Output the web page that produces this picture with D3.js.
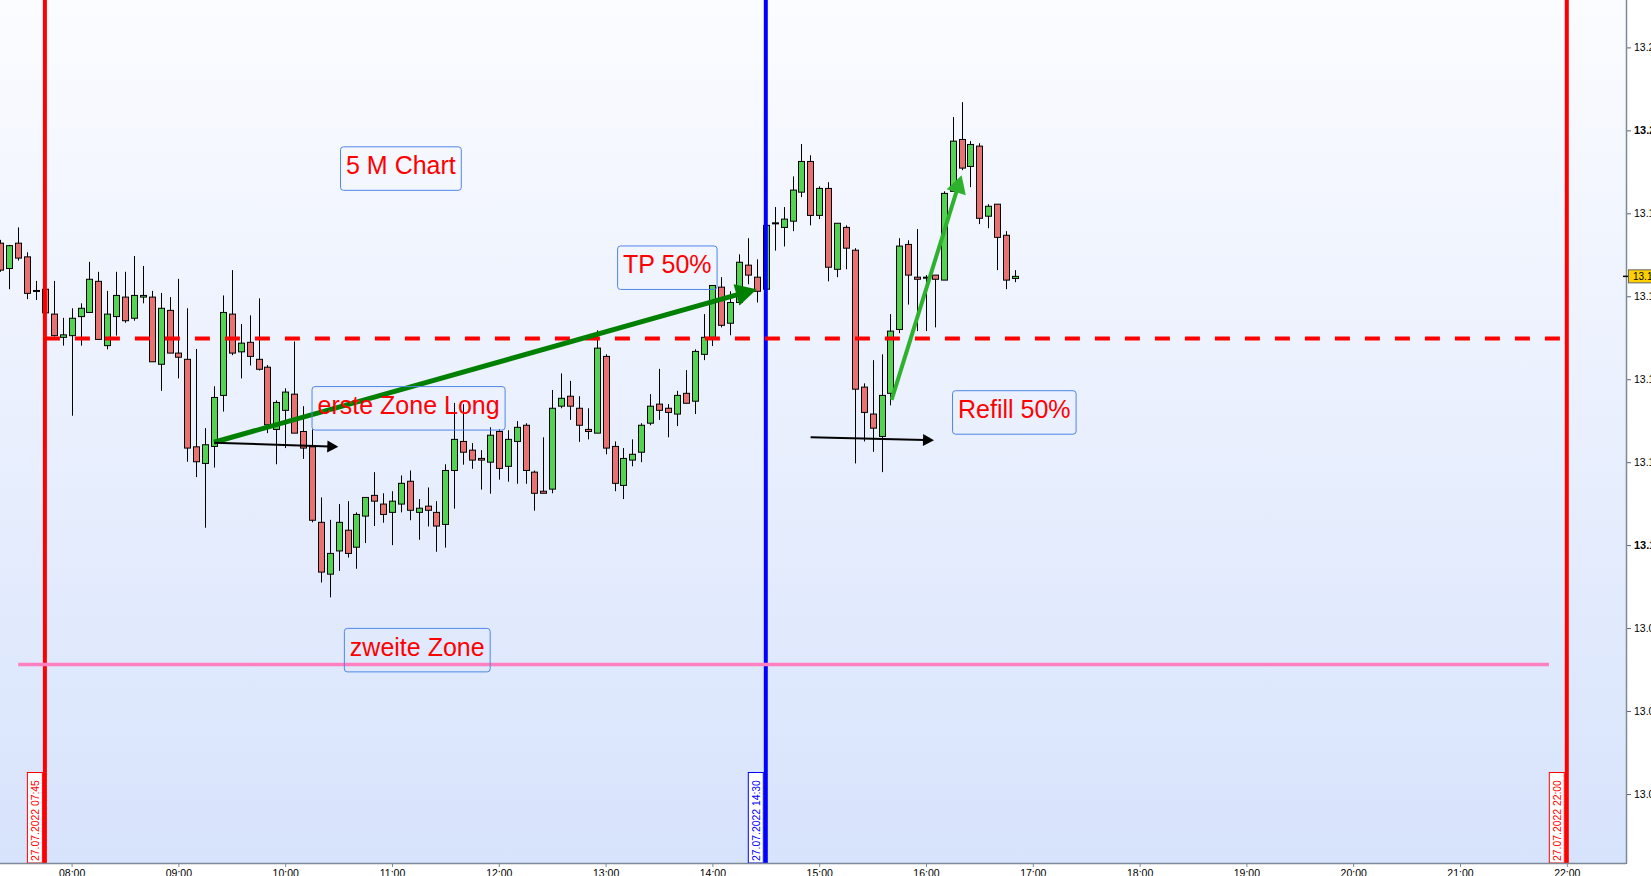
<!DOCTYPE html>
<html><head><meta charset="utf-8">
<script src="https://cdn.jsdelivr.net/npm/d3@7"></script>
<style>html,body{margin:0;padding:0;background:#fff;overflow:hidden}svg{display:block}</style>
</head><body>
<svg id="c" width="1651" height="876"></svg>
<script>
// ---------- data ----------
const DAY = "2022-07-27";
const FIRST_CANDLE = "07:20";           // 5-minute candles
const CANDLE_MINUTES = 5;
const opens = [13.1728,13.1667,13.1728,13.1695,13.1614,13.1617,13.1557,13.1501,13.1505,13.1551,
13.1561,13.1636,13.1481,13.1551,13.1598,13.1547,13.1598,13.1598,13.1436,13.1566,
13.1463,13.1448,13.1237,13.1197,13.1238,13.1361,13.1557,13.1466,13.1489,13.1448,
13.1429,13.1279,13.1325,13.1364,13.1274,13.1237,13.1055,13.0930,13.0986,13.1036,
13.0995,13.1070,13.1120,13.1099,13.1079,13.1099,13.1154,13.1079,13.1094,13.1079,
13.1050,13.1180,13.1250,13.1229,13.1209,13.1200,13.1274,13.1190,13.1250,13.1289,
13.1176,13.1130,13.1135,13.1335,13.1359,13.1330,13.1279,13.1270,13.1455,13.1238,
13.1144,13.1205,13.1224,13.1294,13.1340,13.1330,13.1316,13.1366,13.1347,13.1460,
13.1501,13.1622,13.1535,13.1585,13.1675,13.1646,13.1617,13.1776,13.1766,13.1781,
13.1851,13.1925,13.1795,13.1860,13.1665,13.1766,13.1711,13.1381,13.1316,13.1262,
13.1366,13.1520,13.1725,13.1646,13.1646,13.1651,13.1639,13.1853,13.1978,13.1913,
13.1962,13.1793,13.1822,13.1747,13.1643];
const highs = [13.1736,13.1724,13.1766,13.1706,13.1637,13.1620,13.1637,13.1548,13.1571,13.1583,
13.1683,13.1659,13.1613,13.1659,13.1659,13.1697,13.1673,13.1613,13.1608,13.1598,
13.1642,13.1571,13.1473,13.1282,13.1383,13.1602,13.1663,13.1533,13.1554,13.1595,
13.1434,13.1349,13.1378,13.1491,13.1335,13.1279,13.1115,13.1061,13.1099,13.1106,
13.1079,13.1115,13.1176,13.1125,13.1130,13.1168,13.1180,13.1111,13.1139,13.1106,
13.1195,13.1343,13.1340,13.1246,13.1229,13.1284,13.1279,13.1277,13.1299,13.1294,
13.1180,13.1260,13.1374,13.1414,13.1396,13.1359,13.1330,13.1518,13.1460,13.1250,
13.1234,13.1255,13.1294,13.1364,13.1425,13.1340,13.1372,13.1422,13.1472,13.1557,
13.1626,13.1646,13.1612,13.1701,13.1740,13.1689,13.1774,13.1815,13.1815,13.1889,
13.1967,13.1940,13.1865,13.1875,13.1776,13.1771,13.1716,13.1390,13.1446,13.1460,
13.1557,13.1740,13.1735,13.1762,13.1651,13.1651,13.1853,13.2032,13.2068,13.1974,
13.1969,13.1822,13.1822,13.1757,13.1663];
const lows = [13.1659,13.1617,13.1686,13.1593,13.1591,13.1560,13.1503,13.1481,13.1312,13.1481,
13.1560,13.1496,13.1472,13.1505,13.1536,13.1541,13.1583,13.1442,13.1372,13.1463,
13.1402,13.1201,13.1164,13.1042,13.1187,13.1322,13.1458,13.1402,13.1433,13.1421,
13.1270,13.1195,13.1234,13.1270,13.1208,13.1055,13.0910,13.0874,13.0938,13.0970,
13.0943,13.1005,13.1046,13.1054,13.1000,13.1079,13.1060,13.1013,13.1045,13.0984,
13.0994,13.1088,13.1194,13.1184,13.1134,13.1124,13.1158,13.1153,13.1148,13.1148,
13.1083,13.1125,13.1125,13.1330,13.1302,13.1249,13.1255,13.1270,13.1219,13.1130,
13.1111,13.1190,13.1200,13.1289,13.1302,13.1260,13.1287,13.1342,13.1316,13.1446,
13.1480,13.1525,13.1506,13.1579,13.1629,13.1585,13.1617,13.1710,13.1720,13.1757,
13.1839,13.1771,13.1786,13.1636,13.1646,13.1665,13.1197,13.1250,13.1225,13.1176,
13.1337,13.1511,13.1580,13.1516,13.1516,13.1525,13.1639,13.1853,13.1904,13.1863,
13.1774,13.1764,13.1663,13.1617,13.1634];
const closes = [13.1663,13.1722,13.1692,13.1607,13.1613,13.1560,13.1505,13.1507,13.1547,13.1571,
13.1641,13.1496,13.1557,13.1602,13.1541,13.1602,13.1602,13.1442,13.1571,13.1463,
13.1453,13.1234,13.1201,13.1242,13.1356,13.1561,13.1463,13.1487,13.1455,13.1424,
13.1290,13.1344,13.1369,13.1270,13.1234,13.1060,13.0935,13.0980,13.1055,13.0980,
13.1074,13.1115,13.1106,13.1074,13.1106,13.1149,13.1084,13.1089,13.1084,13.1046,
13.1180,13.1255,13.1224,13.1205,13.1205,13.1265,13.1185,13.1255,13.1284,13.1180,
13.1125,13.1125,13.1330,13.1354,13.1335,13.1289,13.1274,13.1475,13.1234,13.1149,
13.1209,13.1219,13.1289,13.1335,13.1325,13.1320,13.1361,13.1342,13.1467,13.1501,
13.1626,13.1530,13.1585,13.1682,13.1651,13.1612,13.1771,13.1777,13.1786,13.1856,
13.1925,13.1795,13.1860,13.1670,13.1776,13.1716,13.1376,13.1320,13.1282,13.1361,
13.1516,13.1721,13.1651,13.1641,13.1645,13.1641,13.1848,13.1974,13.1909,13.1966,
13.1788,13.1817,13.1742,13.1639,13.1648];

const yTickValues = [13.04,13.06,13.08,13.10,13.12,13.14,13.16,13.18,13.20,13.22];
const yBoldTicks = [13.10,13.20];
const xTickLabels = ["08:00","09:00","10:00","11:00","12:00","13:00","14:00","15:00","16:00","17:00","18:00","19:00","20:00","21:00","22:00"];
const lastPrice = 13.1648;

// vertical time markers
const vMarkerTimes  = ["07:45","14:30","22:00"];
const vMarkerColors = ["#ff0000","#0000ff","#ff0000"];
// horizontal levels
const levelPrices = [13.1498, 13.0712];
const levelFrom   = ["07:45","07:30"];
const levelTo     = ["21:58","21:50"];
const levelColors = ["#ff0000","#ff80c0"];
const levelDash   = ["15,15", null];
// arrows
const arrowFromT = ["09:20:00","15:40:40","09:20:00","14:55:10"];
const arrowFromP = [13.1248,13.1350,13.1247,13.1260];
const arrowToT   = ["14:24:55","16:20:00","10:29:50","16:04:30"];
const arrowToP   = [13.1617,13.1892,13.1237,13.1253];
const arrowColors= ["#008000","#2eb22e","#000000","#000000"];
const arrowWidths= [5,4,2,2];
const arrowHeadL = [21,18,11,11];
const arrowHeadW = [11,10,6,6];
// text annotations (anchor = text start / baseline)
const noteTexts = ["5 M Chart","TP 50%","erste Zone Long","Refill 50%","zweite Zone"];
const noteT = ["10:34:10","13:09:50","10:18:10","16:18:00","10:36:20"];
const noteP = [13.1894,13.1655,13.1316,13.1306,13.0733];

// ---------- setup ----------
const W = 1651, H = 876, plotR = 1626, plotB = 863;
const parse = d3.timeParse("%Y-%m-%d %H:%M:%S");
const t = s => parse(DAY + " " + (s.length === 5 ? s + ":00" : s));
const x = d3.scaleTime().domain([t("08:00"), t("22:00")]).range([71.6, 1566.8]);
const y = d3.scaleLinear().domain([13.22, 13.04]).range([47.4, 794]);
const FONT = "'Liberation Sans', Arial, sans-serif";

const svg = d3.select("#c");
const defs = svg.append("defs");
const grad = defs.append("linearGradient").attr("id","bg").attr("x1",0).attr("y1",0).attr("x2",0).attr("y2",1);
grad.append("stop").attr("offset","0%").attr("stop-color","#fbfcff");
grad.append("stop").attr("offset","100%").attr("stop-color","#d7e3fc");
defs.append("clipPath").attr("id","plot").append("rect").attr("width",plotR).attr("height",plotB);

svg.append("rect").attr("width",W).attr("height",H).attr("fill","#ffffff");
svg.append("rect").attr("width",plotR).attr("height",plotB).attr("fill","url(#bg)");

const g = svg.append("g").attr("clip-path","url(#plot)");

// ---------- candles ----------
const start = t(FIRST_CANDLE);
const candles = opens.map((o,i) => ({
  time: d3.timeMinute.offset(start, i*CANDLE_MINUTES),
  o, h: highs[i], l: lows[i], c: closes[i]
}));
const cg = g.append("g");
const bw = 6;
cg.selectAll("line.wick").data(candles).join("line")
  .attr("x1", d => Math.round(x(d.time)) + 0.5).attr("x2", d => Math.round(x(d.time)) + 0.5)
  .attr("y1", d => y(d.h)).attr("y2", d => y(d.l))
  .attr("stroke","#000").attr("stroke-width",1);
cg.selectAll("rect.body").data(candles).join("rect")
  .attr("x", d => Math.round(x(d.time)) - bw/2 + 0.5)
  .attr("width", bw)
  .attr("y", d => y(Math.max(d.o,d.c)))
  .attr("height", d => Math.max(1, y(Math.min(d.o,d.c)) - y(Math.max(d.o,d.c))))
  .attr("fill", d => d.c >= d.o ? "#52d452" : "#e87272")
  .attr("stroke","#000").attr("stroke-width",1);

// ---------- vertical markers ----------
vMarkerTimes.forEach((tm,i) => {
  g.append("line").attr("x1",x(t(tm))).attr("x2",x(t(tm))).attr("y1",0).attr("y2",plotB)
    .attr("stroke",vMarkerColors[i]).attr("stroke-width",4);
});

// ---------- horizontal levels ----------
levelPrices.forEach((p,i) => {
  const ln = g.append("line").attr("x1",x(t(levelFrom[i]))).attr("x2",x(t(levelTo[i])))
    .attr("y1",y(p)).attr("y2",y(p)).attr("stroke",levelColors[i])
    .attr("stroke-width", i===0 ? 4 : 3.5);
  if (levelDash[i]) ln.attr("stroke-dasharray",levelDash[i]);
});

// ---------- arrows ----------
arrowFromT.forEach((ft,i) => {
  const x1 = x(t(ft)), y1 = y(arrowFromP[i]), x2 = x(t(arrowToT[i])), y2 = y(arrowToP[i]);
  const ang = Math.atan2(y2-y1, x2-x1), L = arrowHeadL[i], hw = arrowHeadW[i];
  const bx = x2 - L*Math.cos(ang), by = y2 - L*Math.sin(ang);
  g.append("line").attr("x1",x1).attr("y1",y1).attr("x2",bx + 2*Math.cos(ang)).attr("y2",by + 2*Math.sin(ang))
    .attr("stroke",arrowColors[i]).attr("stroke-width",arrowWidths[i]);
  const px = -Math.sin(ang), py = Math.cos(ang);
  g.append("path").attr("d",`M${x2},${y2}L${bx+px*hw},${by+py*hw}L${bx-px*hw},${by-py*hw}Z`)
    .attr("fill",arrowColors[i]);
});

// ---------- notes ----------
noteTexts.forEach((txt,i) => {
  const tx = x(t(noteT[i])), ty = y(noteP[i]);
  const te = g.append("text").attr("x",tx).attr("y",ty).text(txt)
    .attr("font-family",FONT).attr("font-size",25).attr("fill","#ff0000");
  const w = te.node().getComputedTextLength();
  g.insert("rect", () => te.node()).attr("x",tx-5.5).attr("y",ty-27.5).attr("width",w+11).attr("height",43.5)
    .attr("rx",3).attr("fill","none").attr("stroke","#4f86e8").attr("stroke-width",1);
});

// ---------- date labels on markers ----------
const fmtFull = d3.timeFormat("%d.%m.%Y %H:%M");
vMarkerTimes.forEach((tm,i) => {
  const lx = x(t(tm));
  svg.append("rect").attr("x",lx-17.5).attr("y",772.5).attr("width",15).attr("height",plotB-772.5)
    .attr("fill","#ffffff").attr("stroke",vMarkerColors[i]).attr("stroke-width",1);
  svg.append("text").attr("transform",`translate(${lx-6},${861}) rotate(-90)`)
    .text(fmtFull(t(tm))).attr("font-family",FONT).attr("font-size",10.4).attr("fill",vMarkerColors[i]);
});

// ---------- axes ----------
const xAxis = d3.axisBottom(x).tickValues(xTickLabels.map(t)).tickFormat(d3.timeFormat("%H:%M")).tickSize(4).tickSizeOuter(0);
const xg = svg.append("g").attr("transform",`translate(0,${plotB})`).call(xAxis);
xg.select(".domain").remove();
xg.selectAll("line").attr("stroke","#7c8a99");
xg.selectAll("text").attr("font-family",FONT).attr("font-size",10.5).attr("fill","#000");
svg.append("line").attr("x1",0).attr("x2",plotR).attr("y1",plotB+0.5).attr("y2",plotB+0.5).attr("stroke","#7c8a99").attr("stroke-width",1.5);

const isBold = d => yBoldTicks.some(b => Math.abs(b-d)<1e-9);
const yAxis = d3.axisRight(y).tickValues(yTickValues).tickFormat(d3.format(".2f")).tickSize(5).tickPadding(3);
const yg = svg.append("g").attr("transform",`translate(${plotR},0)`).call(yAxis);
yg.select(".domain").remove();
yg.selectAll("line").attr("stroke","#556677");
yg.selectAll("text").attr("font-family",FONT).attr("fill","#000")
  .attr("font-size", d => isBold(d) ? 11 : 10.5)
  .attr("font-weight", d => isBold(d) ? "bold" : "normal");
svg.append("line").attr("x1",plotR+0.5).attr("x2",plotR+0.5).attr("y1",0).attr("y2",plotB+1).attr("stroke","#7c8a99").attr("stroke-width",1.5);

// last price label
const lpY = y(lastPrice);
svg.append("line").attr("x1",plotR-3).attr("x2",plotR+4).attr("y1",lpY).attr("y2",lpY).attr("stroke","#000").attr("stroke-width",1.5);
svg.append("rect").attr("x",plotR+2.5).attr("y",lpY-6.5).attr("width",30).attr("height",13)
  .attr("fill","#ffd000").attr("stroke","#666").attr("stroke-width",1);
svg.append("text").attr("x",plotR+7).attr("y",lpY).attr("dy","0.35em").text(d3.format(".2f")(lastPrice))
  .attr("font-family",FONT).attr("font-size",10).attr("fill","#000");
</script>
</body></html>
